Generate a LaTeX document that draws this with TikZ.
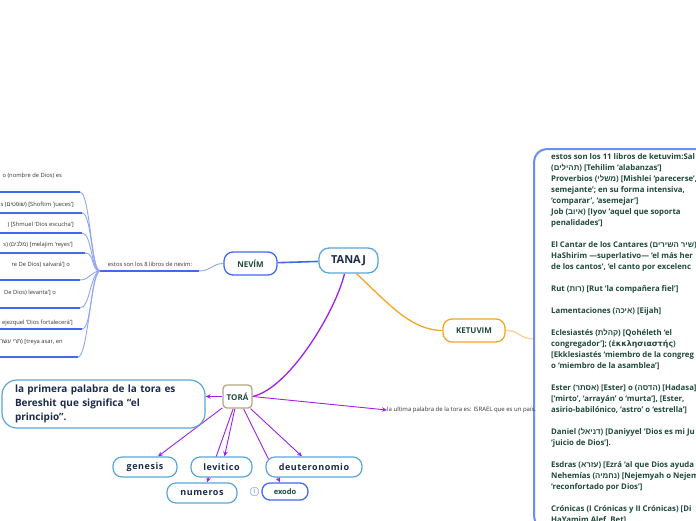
\documentclass[tikz,border=0pt]{standalone}
\usepackage{fontspec}
\setmainfont{Open Sans}
\newfontfamily\hebfont[Script=Hebrew]{Liberation Sans}
\newfontfamily\grkfont{DejaVu Sans}
\TeXXeTstate=1
\newcommand{\hebw}[1]{{\hebfont\beginR #1\endR}}
\usetikzlibrary{arrows.meta,backgrounds}

\definecolor{nevimblue}{HTML}{3F6AF0}
\definecolor{nevsoftc}{HTML}{8EA6F4}
\definecolor{tanajline}{HTML}{5AA6DC}
\definecolor{booklight}{HTML}{5AA6DC}
\definecolor{ketorange}{HTML}{F5A524}
\definecolor{ketsoftc}{HTML}{F8D08C}
\definecolor{torapurple}{HTML}{A020F0}
\definecolor{toratan}{HTML}{B7A486}
\definecolor{navytxt}{HTML}{1B2B4B}
\definecolor{greentxt}{HTML}{1F4A3B}
\definecolor{graytxt}{HTML}{333333}
\definecolor{panelblue}{HTML}{6C8CF6}

\begin{document}
\begin{tikzpicture}[x=1pt,y=-1pt,
    tanajbox/.style={draw=tanajline, line width=1.3pt, rounded corners=10pt, fill=white, minimum width=59pt, minimum height=25pt, inner sep=0pt, font=\fontsize{11}{13}\selectfont\bfseries, text=navytxt},
    branchbox/.style={line width=1.3pt, rounded corners=9pt, fill=white, minimum height=23pt, inner sep=0pt, font=\fontsize{8}{10}\selectfont\bfseries, text=greentxt},
    bookbox/.style={draw=booklight, line width=1.2pt, rounded corners=9pt, fill=white, minimum height=20pt, inner sep=0pt, font=\fontsize{9}{11}\selectfont\bfseries\addfontfeature{LetterSpace=6}, text=navytxt},
    exodobox/.style={draw=nevimblue, line width=1.3pt, rounded corners=8pt, fill=white, minimum width=46pt, minimum height=17pt, inner sep=0pt, font=\fontsize{7.5}{9}\selectfont\bfseries, text=greentxt},
    badge/.style={draw=nevsoftc, line width=0.6pt, rounded corners=1.5pt, minimum size=7.5pt, inner sep=0pt, font=\fontsize{5}{5}\selectfont, text=nevimblue},
    notebox/.style={draw=booklight, line width=1.2pt, rounded corners=15pt, fill=white, minimum width=203pt, minimum height=48pt, text width=177pt, inner xsep=13pt, inner ysep=0pt, align=left, font=\fontsize{10}{14}\selectfont\bfseries, text=navytxt},
    panelbox/.style={draw=panelblue, line width=2pt, rounded corners=13pt, fill=white, anchor=north west, minimum width=200pt, minimum height=380pt},
    ketlist/.style={anchor=north west, inner sep=0pt, align=left, font=\fontsize{7.8}{11}\selectfont\bfseries, text=greentxt},
    tinytxt/.style={inner sep=0pt, font=\fontsize{5.8}{7}\selectfont, text=graytxt},
    nevline/.style={draw=nevimblue, line width=1.6pt},
    nevsoft/.style={draw=nevsoftc, line width=0.9pt},
    ketline/.style={draw=ketorange, line width=1.3pt},
    ketsoft/.style={draw=ketsoftc, line width=1.2pt},
    toraline/.style={draw=torapurple, line width=1.3pt},
    purarr/.style={draw=torapurple, line width=0.9pt, -{Stealth[length=5pt,width=4.5pt]}}
]
\useasboundingbox (0,0) rectangle (696,520);
\clip (0,0) rectangle (696,520);

% main topics
\node[tanajbox] (tanaj) at (348.5,260.5) {TANAJ};
\node[branchbox, draw=nevimblue, minimum width=53pt] (nevim) at (250.5,263.5) {NEVÍM};
\node[branchbox, draw=ketorange, minimum width=62pt] (ketuvim) at (474,330.5) {KETUVIM};
\node[branchbox, draw=toratan, minimum width=29pt, rounded corners=4pt] (tora) at (237.5,396.5) {TORÁ};

% nevim list
\node[tinytxt] (nevimtxt) at (150,264) {estos son los 8 libros de nevim:};
\coordinate (hub) at (100,271);
\coordinate (hubend) at (199,271);
\node[tinytxt, anchor=east] (b1txt) at (62,176) {o (nombre de Dios) es};
\node[tinytxt, anchor=east] (b2txt) at (74,205) {s (\hebw{שופטים}) [Shoftim ‘jueces’]};
\node[tinytxt, anchor=east] (b3txt) at (74,225) {) [Shmuel ‘Dios escucha’]};
\node[tinytxt, anchor=east] (b4txt) at (73,245) {s) (\hebw{מלכים}) [melajim ‘reyes’]};
\node[tinytxt, anchor=east] (b5txt) at (70,265) {re De Dios) salvará’] o};
\node[tinytxt, anchor=east] (b6txt) at (56,293) {De Dios) levanta’] o};
\node[tinytxt, anchor=east] (b7txt) at (73,323) {ejezquel ‘Dios fortalecerá’]};
\node[tinytxt, anchor=east] (b8txt) at (63,342) {(\hebw{תרי עשר}) [treya asar, en};

% ketuvim list
\node[panelbox] (ketpanel) at (533,148) {};
\node[ketlist] (ketbooks) at (551,153.6) {%
estos son los 11 libros de ketuvim:Sal\\
(\hebw{תהילים}) [Tehilim ‘alabanzas’]\\
Proverbios (\hebw{משלי}) [Mishlei ‘parecerse’,\\
semejante’; en su forma intensiva,\\
‘comparar’, ‘asemejar’]\\
Job (\hebw{איוב}) [Iyov ‘aquel que soporta\\
penalidades’]\\[11pt]
El Cantar de los Cantares (\hebw{שיר השירים}) {[}\\
HaShirim —superlativo— ‘el más her\\
de los cantos’, ‘el canto por excelenc\\[11pt]
Rut (\hebw{רות}) [Rut ‘la compañera fiel’]\\[11pt]
Lamentaciones (\hebw{איכה}) [Eijah]\\[11pt]
Eclesiastés (\hebw{קהלת}) [Qohéleth ‘el\\
congregador’]; ({\grkfont ἐκκλησιαστής})\\
{[}Ekklesiastés ‘miembro de la congreg\\
o ‘miembro de la asamblea’]\\[11pt]
Ester (\hebw{אסתר}) [Ester] o (\hebw{הדסה}) [Hadasa]\\
{[}‘mirto’, ‘arrayán’ o ‘murta’], [Ester,\\
asirio-babilónico, ‘astro’ o ‘estrella’]\\[11pt]
Daniel (\hebw{דניאל}) [Daniyyel ‘Dios es mi Ju\\
‘juicio de Dios’].\\[11pt]
Esdras (\hebw{עזרא}) [Ezrá ‘al que Dios ayuda\\
Nehemías (\hebw{נחמיה}) [Nejemyah o Nejem\\
‘reconfortado por Dios’]\\[11pt]
Crónicas (I Crónicas y II Crónicas) [Di\\
HaYamim Alef, Bet]};

% tora
\node[notebox] (bereshit) at (103.5,404) {la primera palabra de la tora es\\Bereshit que significa “el\\principio”.};
\node[tinytxt, anchor=west, font=\fontsize{6}{7}\selectfont] (ultima) at (387,410) {la ultima palabra de la tora es: ISRAEL que es un país.};
\node[bookbox, minimum width=64pt] (genesis) at (145,467) {genesis};
\node[bookbox, minimum width=61pt] (levitico) at (221.5,467) {levitico};
\node[bookbox, minimum width=96pt] (deuter) at (314,467) {deuteronomio};
\node[bookbox, minimum width=70pt] (numeros) at (202,493) {numeros};
\node[exodobox] (exodo) at (285,491.5) {exodo};
\node[badge] (exbadge) at (254.5,491.5) {1};

\begin{scope}[on background layer]
\draw[nevline] (nevim) -- (tanaj);
\draw[nevsoft] (nevim.west) .. controls (212,263.5) and (211,271) .. (hubend);
\draw[nevline] (hub) -- (hubend);
\foreach \yy/\xx [count=\i] in {192/80,213/82,233/82,253/85,280/80,308/80,329/82,357/78} {
  \coordinate (fan\i) at (\xx,\yy);
  \draw[nevline] (0,\yy) -- (fan\i);
  \draw[nevsoft] (fan\i) .. controls (\xx+10,\yy) and (91,271) .. (hub);
}
\draw[ketline] ([xshift=8pt]tanaj.south) .. controls (385,300) and (410,330.5) .. (ketuvim.west);
\draw[ketsoft] (ketuvim.east) .. controls (520,330.5) and (518,338) .. (ketpanel.west);
\draw[toraline] ([xshift=-4pt]tanaj.south) .. controls (336,310) and (290,388) .. (tora.east);
\draw[purarr] (tora.west) -- (tora.west -| bereshit.east);
\draw[purarr] (tora.east) -- (ultima.west);
\draw[purarr] (tora) -- ([xshift=13pt]genesis.north);
\draw[purarr] (tora) -- ([xshift=3pt]levitico.north);
\draw[purarr] (tora) -- ([xshift=5pt]numeros.north);
\draw[purarr] (tora) -- ([xshift=-12pt]deuter.north);
\draw[purarr] (tora) -- ([xshift=-5pt]exodo.north);
\end{scope}
\end{tikzpicture}
\end{document}
